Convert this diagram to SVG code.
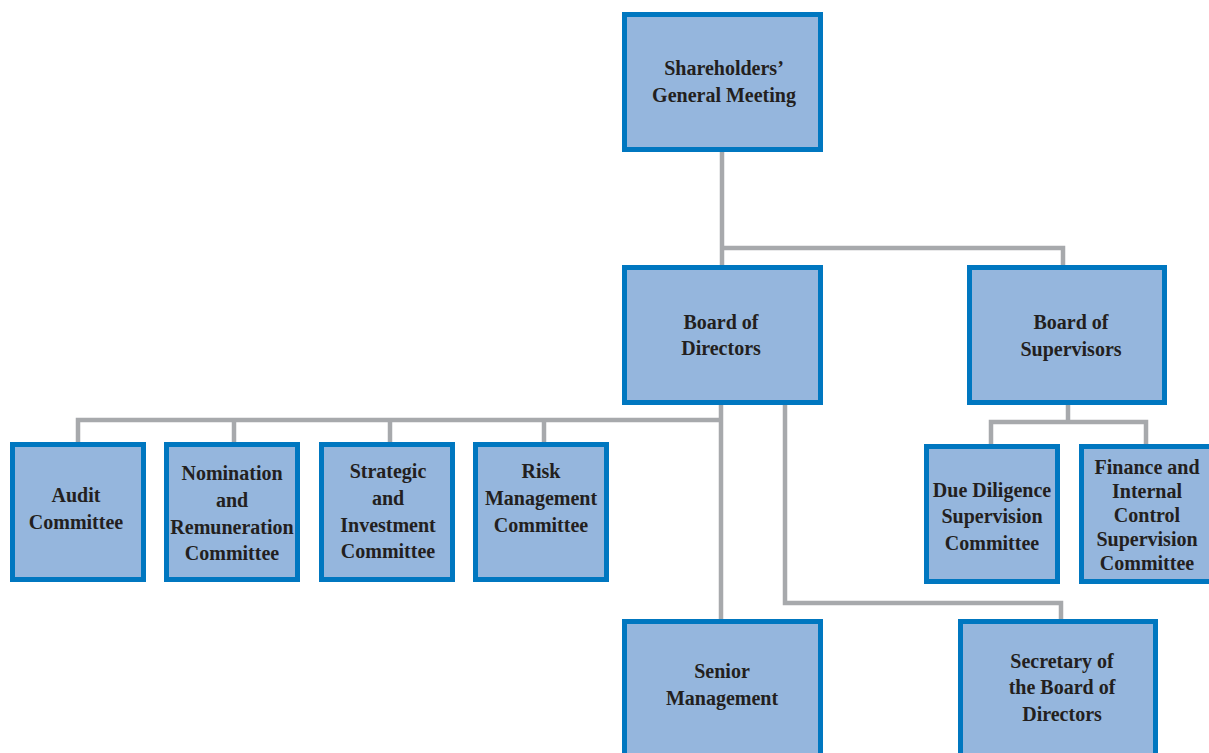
<svg xmlns="http://www.w3.org/2000/svg" width="1209" height="753" viewBox="0 0 1209 753">
<style>
.box{fill:#95b6dd;stroke:#0077c0;stroke-width:5}
.lbl{font-family:"Liberation Serif","Times New Roman",serif;font-weight:bold;font-size:20px;fill:#231f20;text-anchor:middle}
.conn{fill:none;stroke:#a7a9ac;stroke-width:4.5}
</style>
<rect width="1209" height="753" fill="#ffffff"/>
<g id="connectors" class="conn">
<path d="M722 152 V265"/>
<path d="M722 248 H1063 V265"/>
<path d="M721 405 V619"/>
<path d="M78 442 V420 H721"/>
<path d="M234 420 V442"/>
<path d="M390 420 V442"/>
<path d="M544 420 V442"/>
<path d="M785 405 V603 H1061 V619"/>
<path d="M1068 405 V422"/>
<path d="M991 445 V422 H1146 V445"/>
</g>
<g id="shareholders">
<rect class="box" x="624.5" y="14.5" width="196" height="135"/>
<text class="lbl" x="724" y="75">Shareholders’</text>
<text class="lbl" x="724" y="102">General Meeting</text>
</g>
<g id="board-directors">
<rect class="box" x="624.5" y="267.5" width="196" height="135"/>
<text class="lbl" x="721" y="329">Board of</text>
<text class="lbl" x="721" y="355">Directors</text>
</g>
<g id="board-supervisors">
<rect class="box" x="969.5" y="267.5" width="195" height="135"/>
<text class="lbl" x="1071" y="329">Board of</text>
<text class="lbl" x="1071" y="356">Supervisors</text>
</g>
<g id="audit">
<rect class="box" x="12.5" y="444.5" width="131" height="135"/>
<text class="lbl" x="76" y="502">Audit</text>
<text class="lbl" x="76" y="529">Committee</text>
</g>
<g id="nomination">
<rect class="box" x="166.5" y="444.5" width="131" height="135"/>
<text class="lbl" x="232" y="480">Nomination</text>
<text class="lbl" x="232" y="507">and</text>
<text class="lbl" x="232" y="534">Remuneration</text>
<text class="lbl" x="232" y="560">Committee</text>
</g>
<g id="strategic">
<rect class="box" x="321.5" y="444.5" width="131" height="135"/>
<text class="lbl" x="388" y="478">Strategic</text>
<text class="lbl" x="388" y="505">and</text>
<text class="lbl" x="388" y="532">Investment</text>
<text class="lbl" x="388" y="558">Committee</text>
</g>
<g id="risk">
<rect class="box" x="475.5" y="444.5" width="131" height="135"/>
<text class="lbl" x="541" y="478">Risk</text>
<text class="lbl" x="541" y="505">Management</text>
<text class="lbl" x="541" y="532">Committee</text>
</g>
<g id="due-diligence">
<rect class="box" x="926.5" y="446.5" width="131" height="135"/>
<text class="lbl" x="992" y="497">Due Diligence</text>
<text class="lbl" x="992" y="523">Supervision</text>
<text class="lbl" x="992" y="550">Committee</text>
</g>
<g id="finance">
<rect class="box" x="1081.5" y="446.5" width="131" height="135"/>
<text class="lbl" x="1147" y="474">Finance and</text>
<text class="lbl" x="1147" y="498">Internal</text>
<text class="lbl" x="1147" y="522">Control</text>
<text class="lbl" x="1147" y="546">Supervision</text>
<text class="lbl" x="1147" y="570">Committee</text>
</g>
<g id="senior-management">
<rect class="box" x="624.5" y="621.5" width="196" height="140"/>
<text class="lbl" x="722" y="678">Senior</text>
<text class="lbl" x="722" y="705">Management</text>
</g>
<g id="secretary">
<rect class="box" x="960.5" y="621.5" width="195" height="140"/>
<text class="lbl" x="1062" y="668">Secretary of</text>
<text class="lbl" x="1062" y="694">the Board of</text>
<text class="lbl" x="1062" y="721">Directors</text>
</g>
</svg>
